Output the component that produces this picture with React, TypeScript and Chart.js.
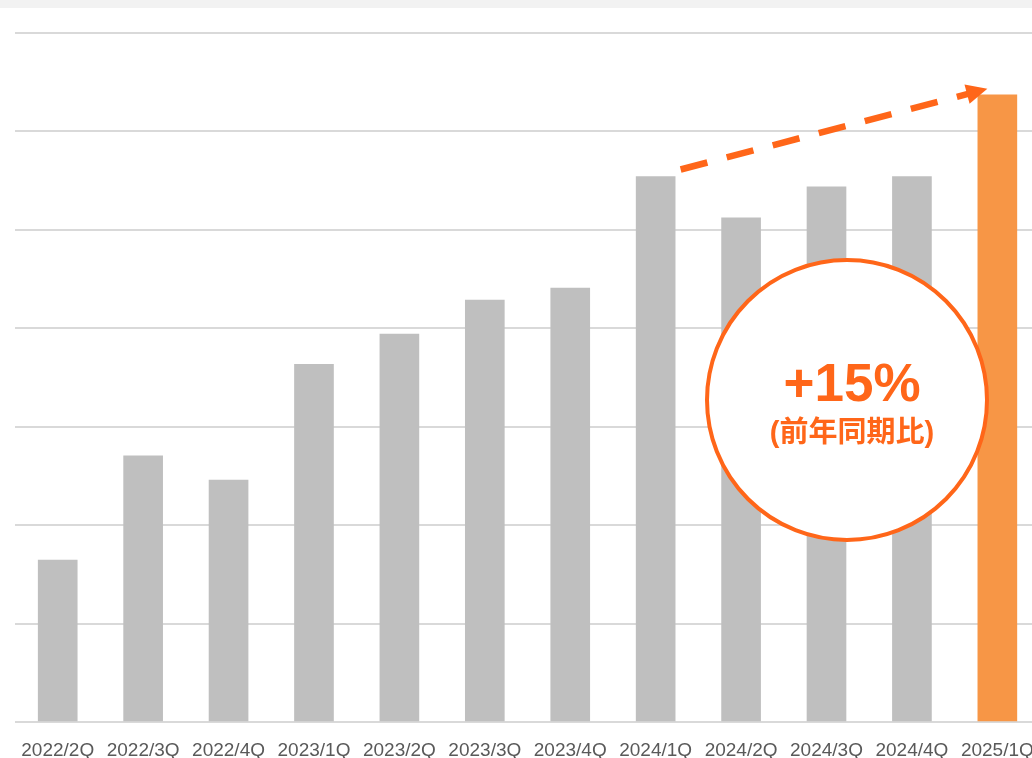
import React, { useEffect, useRef } from "react";
import { Chart, registerables } from "chart.js";

Chart.register(...registerables);

const categories = [
  "2022/2Q", "2022/3Q", "2022/4Q", "2023/1Q", "2023/2Q", "2023/3Q",
  "2023/4Q", "2024/1Q", "2024/2Q", "2024/3Q", "2024/4Q", "2025/1Q",
];
const salesValues = [1.646, 2.703, 2.459, 3.635, 3.94, 4.286, 4.408, 5.542, 5.122, 5.437, 5.542, 6.372];
const yTicks = [0, 1, 2, 3, 4, 5, 6, 7];
const growthLabel = "+15%";
const growthSubLabel = "(前年同期比)";

const GREY = "#bfbfbf";
const ORANGE_BAR = "#f79646";
const ORANGE = "#ff6619";

const calloutPlugin = {
  id: "callout",
  afterDatasetsDraw(chart: any) {
    const ctx = chart.ctx as CanvasRenderingContext2D;
    const xs = chart.scales.x;
    const ys = chart.scales.y;
    const i0 = 7;
    const i1 = categories.length - 1;
    const sx = xs.getPixelForValue(i0) + 25;
    const sy = ys.getPixelForValue(salesValues[i0]) - 7;
    const tx = xs.getPixelForValue(i1) - 10;
    const ty = ys.getPixelForValue(salesValues[i1]) - 6;
    const dx = tx - sx;
    const dy = ty - sy;
    const len = Math.hypot(dx, dy);
    const ux = dx / len;
    const uy = dy / len;
    const headLen = 21;
    const headHalf = 10;
    const bx = tx - ux * headLen;
    const by = ty - uy * headLen;

    ctx.save();
    ctx.strokeStyle = ORANGE;
    ctx.lineWidth = 6.5;
    ctx.lineCap = "butt";
    ctx.setLineDash([27.6, 20]);
    ctx.beginPath();
    ctx.moveTo(sx, sy);
    ctx.lineTo(bx + ux * 1, by + uy * 1);
    ctx.stroke();
    ctx.setLineDash([]);
    ctx.fillStyle = ORANGE;
    ctx.beginPath();
    ctx.moveTo(tx, ty);
    ctx.lineTo(bx - uy * headHalf, by + ux * headHalf);
    ctx.lineTo(bx + uy * headHalf, by - ux * headHalf);
    ctx.closePath();
    ctx.fill();

    const cx = 847;
    const cy = 400;
    ctx.beginPath();
    ctx.arc(cx, cy, 140, 0, Math.PI * 2);
    ctx.fillStyle = "#ffffff";
    ctx.fill();
    ctx.lineWidth = 4;
    ctx.strokeStyle = ORANGE;
    ctx.stroke();

    ctx.fillStyle = ORANGE;
    ctx.textAlign = "center";
    ctx.textBaseline = "alphabetic";
    ctx.font = "bold 53px 'Liberation Sans', Arial, sans-serif";
    ctx.fillText(growthLabel, cx + 5, 401);
    ctx.font = "bold 29px 'Liberation Sans', 'Noto Sans CJK JP', sans-serif";
    ctx.textBaseline = "middle";
    ctx.fillText(growthSubLabel, cx + 5, 434);
    ctx.restore();
  },
};

export default function App() {
  const ref = useRef<HTMLCanvasElement | null>(null);

  useEffect(() => {
    if (!ref.current) return;
    const chart = new Chart(ref.current, {
      type: "bar",
      data: {
        labels: categories,
        datasets: [
          {
            data: salesValues,
            backgroundColor: salesValues.map((_, i) => (i === salesValues.length - 1 ? ORANGE_BAR : GREY)),
            barThickness: 39,
            borderWidth: 0,
          },
        ],
      },
      options: {
        responsive: false,
        animation: false,
        events: [],
        layout: { padding: { left: 15, right: 5, top: 33, bottom: 14.2 } },
        plugins: {
          legend: { display: false },
          tooltip: { enabled: false },
        },
        scales: {
          x: {
            grid: { display: false, drawTicks: false },
            border: { display: false },
            ticks: {
              color: "#595959",
              font: { family: "'Liberation Sans', Arial, sans-serif", size: 19 },
              padding: 17,
              maxRotation: 0,
              autoSkip: false,
            },
          },
          y: {
            min: yTicks[0],
            max: yTicks[yTicks.length - 1],
            afterBuildTicks: (axis: any) => {
              axis.ticks = yTicks.map((v) => ({ value: v }));
            },
            ticks: { display: false },
            border: { display: false },
            grid: { color: "#d9d9d9", lineWidth: 2, drawTicks: false },
          },
        },
      },
      plugins: [calloutPlugin],
    });
    return () => chart.destroy();
  }, []);

  return (
    <div
      style={{
        position: "fixed",
        left: 0,
        top: 0,
        width: 1032,
        height: 758,
        overflow: "hidden",
        background: "#ffffff",
      }}
    >
      <canvas ref={ref} width={1051} height={793} style={{ position: "absolute", left: 0, top: 0 }} />
      <div
        style={{
          position: "absolute",
          left: 0,
          top: 0,
          width: 1032,
          height: 8,
          background: "#f2f2f2",
        }}
      />
    </div>
  );
}
